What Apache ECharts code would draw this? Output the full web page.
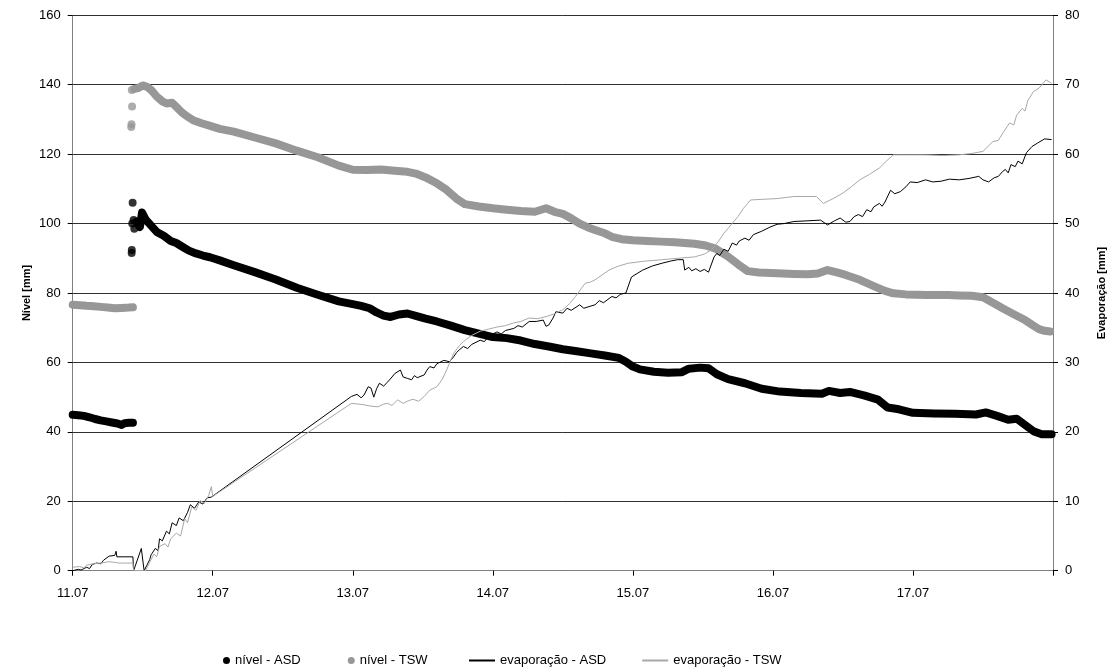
<!DOCTYPE html>
<html>
<head>
<meta charset="utf-8">
<script src="https://cdn.jsdelivr.net/npm/echarts@6/dist/echarts.min.js"></script>
<style>
  html, body { margin: 0; padding: 0; background: #fff; }
  #grafico { width: 1115px; height: 668px; }
</style>
</head>
<body>
<div id="grafico"></div>
<script>
// eixo x: dias desde 11.07 00:00
const rotulosX = ['11.07', '12.07', '13.07', '14.07', '15.07', '16.07', '17.07'];

// nível ASD [mm] - antes da recarga
const nivelAsd1 = [
  [0.00, 44.9], [0.04, 44.8], [0.08, 44.6], [0.12, 44.2], [0.16, 43.7], [0.20, 43.3],
  [0.24, 43.0], [0.28, 42.7], [0.32, 42.4], [0.35, 42.0], [0.37, 42.5], [0.40, 42.6], [0.43, 42.6]
];
// pontos soltos na recarga
const nivelAsdSoltos = [[0.421, 91.5], [0.422, 92.4], [0.425, 100.0], [0.428, 106.0], [0.44, 98.5], [0.435, 101.0]];
// nível ASD [mm] - depois da recarga
const nivelAsd2 = [
  [0.455, 100.5], [0.48, 99.0], [0.495, 103.2], [0.52, 101.2], [0.56, 99.4], [0.60, 97.6],
  [0.65, 96.5], [0.70, 95.0], [0.74, 94.4], [0.78, 93.4], [0.83, 92.2], [0.88, 91.4],
  [0.93, 90.8], [0.98, 90.3], [1.05, 89.4], [1.15, 88.0], [1.30, 86.0], [1.45, 83.9],
  [1.60, 81.5], [1.75, 79.5], [1.90, 77.6], [2.00, 76.8], [2.06, 76.3], [2.12, 75.6],
  [2.17, 74.4], [2.22, 73.5], [2.27, 73.1], [2.33, 73.8], [2.39, 74.1], [2.45, 73.4],
  [2.52, 72.6], [2.60, 71.8], [2.70, 70.6], [2.80, 69.3], [2.90, 68.3], [3.00, 67.3],
  [3.10, 67.0], [3.20, 66.3], [3.30, 65.3], [3.40, 64.6], [3.50, 63.8], [3.60, 63.2],
  [3.70, 62.6], [3.80, 62.0], [3.90, 61.3], [3.95, 60.2], [4.00, 58.8], [4.05, 58.0],
  [4.15, 57.3], [4.25, 57.0], [4.35, 57.2], [4.40, 58.2], [4.48, 58.5], [4.54, 58.3],
  [4.60, 56.6], [4.68, 55.2], [4.80, 54.0], [4.92, 52.4], [5.05, 51.6], [5.20, 51.2],
  [5.35, 51.0], [5.40, 51.8], [5.48, 51.2], [5.55, 51.5], [5.65, 50.5], [5.75, 49.3],
  [5.82, 47.0], [5.90, 46.5], [6.00, 45.5], [6.15, 45.3], [6.30, 45.2], [6.45, 45.0],
  [6.52, 45.6], [6.60, 44.6], [6.68, 43.5], [6.74, 43.8], [6.80, 42.0], [6.86, 40.2],
  [6.92, 39.3], [6.99, 39.3]
];

// nível TSW [mm]
const nivelTsw1 = [
  [0.00, 76.6], [0.05, 76.5], [0.10, 76.3], [0.15, 76.2], [0.20, 76.0], [0.25, 75.8],
  [0.30, 75.6], [0.35, 75.7], [0.40, 75.8], [0.43, 75.9]
];
const nivelTswSoltos = [[0.418, 127.8], [0.420, 128.6], [0.424, 133.7], [0.422, 138.5]];
const nivelTsw2 = [
  [0.44, 138.8], [0.465, 139.0], [0.50, 139.8], [0.53, 139.4], [0.56, 138.5], [0.60, 136.6],
  [0.64, 135.2], [0.67, 134.6], [0.71, 134.8], [0.74, 133.6], [0.78, 132.0], [0.82, 130.8],
  [0.86, 129.8], [0.92, 128.9], [0.97, 128.3], [1.05, 127.3], [1.15, 126.5], [1.30, 124.8],
  [1.45, 123.1], [1.60, 121.0], [1.75, 119.1], [1.90, 116.7], [2.00, 115.5], [2.10, 115.4],
  [2.20, 115.6], [2.30, 115.2], [2.39, 114.9], [2.45, 114.4], [2.52, 113.3], [2.60, 111.6],
  [2.67, 109.7], [2.74, 107.2], [2.80, 105.6], [2.90, 104.9], [3.00, 104.4], [3.10, 104.0],
  [3.20, 103.6], [3.30, 103.4], [3.38, 104.4], [3.44, 103.4], [3.50, 102.8], [3.56, 101.5],
  [3.62, 100.0], [3.68, 98.9], [3.74, 98.0], [3.80, 97.2], [3.85, 96.2], [3.92, 95.5],
  [4.00, 95.2], [4.10, 95.0], [4.20, 94.8], [4.30, 94.6], [4.44, 94.2], [4.52, 93.7],
  [4.59, 92.8], [4.68, 90.5], [4.75, 88.3], [4.82, 86.3], [4.90, 85.9], [5.03, 85.7],
  [5.15, 85.5], [5.25, 85.4], [5.32, 85.6], [5.39, 86.6], [5.45, 86.0], [5.52, 85.2],
  [5.62, 83.8], [5.72, 82.0], [5.80, 80.6], [5.86, 79.9], [5.95, 79.6], [6.10, 79.4],
  [6.25, 79.4], [6.33, 79.3], [6.42, 79.2], [6.50, 78.8], [6.58, 77.0], [6.64, 75.6],
  [6.72, 73.9], [6.80, 72.2], [6.86, 70.6], [6.90, 69.6], [6.94, 69.1], [6.98, 68.9]
];

// evaporação ASD [mm]
const evapAsd = [
  [0.00, 0.0], [0.04, 0.2], [0.06, 0.1], [0.10, 0.5], [0.12, 0.3], [0.14, 0.9], [0.17, 1.1],
  [0.20, 1.0], [0.22, 1.5], [0.26, 2.1], [0.30, 2.2], [0.31, 2.8], [0.315, 2.0], [0.36, 2.0],
  [0.43, 2.0], [0.435, 0.0], [0.445, 0.0], [0.49, 3.2], [0.51, 0.0], [0.53, 0.8], [0.55, 1.6],
  [0.56, 2.3], [0.59, 3.2], [0.61, 2.9], [0.62, 4.6], [0.64, 4.3], [0.67, 5.7], [0.69, 5.3],
  [0.71, 6.9], [0.74, 6.5], [0.76, 7.6], [0.79, 7.2], [0.82, 8.4], [0.84, 9.5], [0.87, 9.0],
  [0.90, 9.9], [0.93, 9.6], [0.96, 10.5], [0.99, 10.6], [1.99, 25.1], [2.03, 25.4],
  [2.06, 24.9], [2.08, 25.3], [2.11, 26.5], [2.13, 26.3], [2.15, 25.0], [2.17, 26.2],
  [2.19, 27.0], [2.22, 26.6], [2.25, 27.2], [2.28, 27.9], [2.30, 28.4], [2.34, 28.9],
  [2.36, 27.9], [2.39, 27.7], [2.42, 27.5], [2.44, 28.1], [2.46, 27.8], [2.51, 28.2],
  [2.53, 28.9], [2.55, 29.4], [2.58, 29.2], [2.60, 29.8], [2.65, 30.3], [2.69, 30.1],
  [2.72, 30.8], [2.74, 31.4], [2.76, 31.8], [2.79, 32.3], [2.82, 32.0], [2.85, 32.6],
  [2.91, 33.2], [2.94, 33.0], [2.97, 33.8], [3.03, 34.4], [3.06, 34.1], [3.09, 34.6],
  [3.15, 34.9], [3.18, 35.3], [3.21, 35.1], [3.26, 35.9], [3.31, 35.9], [3.36, 36.1],
  [3.38, 35.2], [3.40, 35.4], [3.43, 36.4], [3.45, 37.3], [3.50, 37.1], [3.53, 37.8],
  [3.56, 37.5], [3.62, 38.3], [3.65, 37.8], [3.68, 38.0], [3.73, 38.3], [3.76, 38.9],
  [3.79, 38.6], [3.85, 39.5], [3.88, 39.3], [3.91, 39.8], [3.95, 40.0], [3.99, 42.3],
  [4.03, 42.8], [4.07, 43.3], [4.14, 43.9], [4.21, 44.3], [4.27, 44.6], [4.32, 44.8],
  [4.36, 44.8], [4.37, 43.3], [4.40, 43.7], [4.42, 43.2], [4.45, 43.5], [4.48, 43.1],
  [4.51, 43.4], [4.54, 43.0], [4.58, 45.2], [4.60, 45.7], [4.62, 45.4], [4.65, 46.3],
  [4.68, 46.0], [4.71, 47.2], [4.74, 46.9], [4.76, 47.5], [4.80, 47.9], [4.83, 47.6],
  [4.86, 48.4], [4.92, 48.9], [4.98, 49.5], [5.03, 49.9], [5.08, 50.0], [5.15, 50.3],
  [5.25, 50.4], [5.34, 50.5], [5.39, 49.8], [5.44, 50.4], [5.48, 50.8], [5.52, 50.2],
  [5.55, 50.3], [5.58, 51.0], [5.61, 51.3], [5.64, 51.0], [5.67, 52.0], [5.70, 51.7],
  [5.72, 52.4], [5.76, 52.9], [5.78, 52.5], [5.80, 53.1], [5.84, 54.8], [5.87, 54.3],
  [5.91, 54.6], [5.95, 55.3], [5.98, 56.0], [6.03, 55.9], [6.09, 56.3], [6.14, 56.0],
  [6.20, 56.1], [6.26, 56.4], [6.33, 56.3], [6.40, 56.5], [6.47, 56.8], [6.50, 56.3],
  [6.54, 56.0], [6.58, 56.6], [6.61, 56.8], [6.64, 57.5], [6.66, 57.8], [6.68, 57.3],
  [6.70, 58.5], [6.73, 58.2], [6.75, 59.0], [6.78, 58.6], [6.81, 60.2], [6.85, 61.1],
  [6.89, 61.6], [6.94, 62.2], [6.99, 62.1]
];

// evaporação TSW [mm]
const evapTsw = [
  [0.00, 0.5], [0.05, 0.6], [0.08, 0.4], [0.10, 0.8], [0.15, 1.0], [0.20, 1.1], [0.26, 1.3],
  [0.30, 1.2], [0.33, 1.1], [0.38, 1.1], [0.43, 1.1], [0.435, 0.0], [0.52, 0.0], [0.55, 1.2],
  [0.58, 2.4], [0.60, 2.0], [0.62, 3.5], [0.66, 3.9], [0.68, 3.4], [0.70, 4.6], [0.74, 5.4],
  [0.77, 5.0], [0.80, 7.5], [0.82, 6.9], [0.85, 9.2], [0.88, 8.7], [0.91, 10.1], [0.94, 9.7],
  [0.97, 10.8], [0.99, 12.1], [1.00, 10.7], [1.99, 24.1], [2.04, 24.0], [2.08, 23.9],
  [2.13, 23.7], [2.18, 23.6], [2.22, 24.0], [2.25, 24.1], [2.28, 23.8], [2.32, 24.6],
  [2.36, 24.1], [2.40, 24.5], [2.43, 24.7], [2.47, 24.4], [2.51, 25.1], [2.55, 26.0],
  [2.60, 26.5], [2.64, 27.6], [2.67, 28.9], [2.72, 31.3], [2.76, 32.4], [2.79, 33.0],
  [2.85, 33.9], [2.91, 34.5], [2.97, 34.8], [3.03, 35.1], [3.09, 35.3], [3.15, 35.7],
  [3.20, 35.9], [3.26, 36.4], [3.32, 36.3], [3.38, 36.6], [3.44, 37.0], [3.50, 37.6],
  [3.55, 38.5], [3.59, 39.5], [3.63, 40.6], [3.66, 41.4], [3.70, 41.6], [3.73, 41.9],
  [3.78, 42.6], [3.83, 43.3], [3.90, 43.9], [3.97, 44.3], [4.09, 44.6], [4.21, 44.8],
  [4.32, 45.0], [4.44, 45.2], [4.51, 45.6], [4.56, 46.2], [4.61, 47.4], [4.65, 48.6],
  [4.70, 49.8], [4.75, 51.0], [4.79, 52.2], [4.82, 52.9], [4.84, 53.4], [4.93, 53.5],
  [5.03, 53.6], [5.15, 53.9], [5.31, 53.9], [5.36, 52.9], [5.43, 53.6], [5.50, 54.4],
  [5.56, 55.3], [5.62, 56.3], [5.69, 57.1], [5.76, 58.0], [5.81, 59.0], [5.86, 59.9],
  [5.97, 59.9], [6.09, 59.9], [6.21, 59.8], [6.33, 59.9], [6.42, 60.1], [6.50, 60.4],
  [6.57, 61.8], [6.61, 62.0], [6.65, 63.3], [6.69, 64.5], [6.72, 64.2], [6.74, 65.6],
  [6.78, 66.6], [6.80, 66.2], [6.82, 67.7], [6.86, 69.0], [6.90, 69.5], [6.95, 70.7],
  [6.99, 70.2]
];

const corAsd = '#000000';
const corTswNivel = '#979797';
const corTswEvap = '#a8a8a8';
const fonte = "'Liberation Sans', Arial, sans-serif";

const grafico = echarts.init(document.getElementById('grafico'));

function serieNivel(nome, dados, cor) {
  return {
    name: nome,
    type: 'line',
    yAxisIndex: 0,
    data: dados,
    symbol: 'none',
    legendIcon: 'circle',
    lineStyle: { color: cor, width: 8, cap: 'round', join: 'round' },
    itemStyle: { color: cor },
    z: 2
  };
}

function serieSoltos(nome, dados, cor) {
  return {
    name: nome,
    type: 'scatter',
    yAxisIndex: 0,
    data: dados,
    symbol: 'circle',
    symbolSize: 8,
    itemStyle: { color: cor },
    z: 2
  };
}

function serieEvap(nome, dados, cor) {
  return {
    name: nome,
    type: 'line',
    yAxisIndex: 1,
    data: dados,
    symbol: 'none',
    lineStyle: { color: cor, width: 1 },
    itemStyle: { color: cor },
    z: 3
  };
}

const textoLegenda = { fontFamily: fonte, fontSize: 13, color: '#000' };

const option = {
  animation: false,
  backgroundColor: '#ffffff',
  grid: { left: 72.7, right: 54.3, top: 15.3, bottom: 97.3 },
  legend: [
    {
      left: 218,
      top: 649,
      itemWidth: 7,
      itemHeight: 7,
      itemGap: 47,
      textStyle: textoLegenda,
      data: [
        { name: 'nível - ASD', icon: 'circle' },
        { name: 'nível - TSW', icon: 'circle' }
      ]
    },
    {
      left: 464,
      top: 649,
      itemWidth: 26,
      itemHeight: 2,
      itemGap: 36,
      textStyle: textoLegenda,
      data: [
        { name: 'evaporação - ASD', icon: 'rect' },
        { name: 'evaporação - TSW', icon: 'rect' }
      ]
    }
  ],
  xAxis: {
    type: 'value',
    min: 0,
    max: 7,
    interval: 1,
    axisLine: { lineStyle: { color: '#808080', width: 1 } },
    axisTick: { show: true, length: 5, lineStyle: { color: '#000' } },
    splitLine: { show: false },
    axisLabel: {
      fontFamily: fonte, fontSize: 13, color: '#000', margin: 16,
      formatter: v => rotulosX[v] || ''
    }
  },
  yAxis: [
    {
      type: 'value',
      min: 0,
      max: 160,
      interval: 20,
      name: 'Nível [mm]',
      nameLocation: 'middle',
      nameRotate: 90,
      nameGap: 40,
      nameMoveOverlap: false,
      nameTextStyle: { fontFamily: fonte, fontSize: 11, fontWeight: 'bold', color: '#000' },
      axisLine: { show: true, lineStyle: { color: '#808080', width: 1 } },
      axisTick: { show: true, length: 5, lineStyle: { color: '#000' } },
      axisLabel: { fontFamily: fonte, fontSize: 13, color: '#000', margin: 12 },
      splitLine: { show: true, lineStyle: { color: '#303030', width: 1 } }
    },
    {
      type: 'value',
      position: 'right',
      min: 0,
      max: 80,
      interval: 10,
      name: 'Evaporação [mm]',
      nameLocation: 'middle',
      nameRotate: 90,
      nameGap: 43,
      nameMoveOverlap: false,
      nameTextStyle: { fontFamily: fonte, fontSize: 11, fontWeight: 'bold', color: '#000' },
      axisLine: { show: true, lineStyle: { color: '#808080', width: 1 } },
      axisTick: { show: true, length: 5, lineStyle: { color: '#000' } },
      axisLabel: { fontFamily: fonte, fontSize: 13, color: '#000', margin: 12 },
      splitLine: { show: false }
    }
  ],
  series: [
    serieNivel('nível - ASD', nivelAsd1, corAsd),
    serieNivel('nível - TSW', nivelTsw1, corTswNivel),
    serieEvap('evaporação - ASD', evapAsd, corAsd),
    serieEvap('evaporação - TSW', evapTsw, corTswEvap),
    serieNivel('nível - ASD', nivelAsd2, corAsd),
    serieSoltos('nível - ASD', nivelAsdSoltos, corAsd),
    serieNivel('nível - TSW', nivelTsw2, corTswNivel),
    serieSoltos('nível - TSW', nivelTswSoltos, corTswNivel)
  ]
};

grafico.setOption(option);
</script>
</body>
</html>
